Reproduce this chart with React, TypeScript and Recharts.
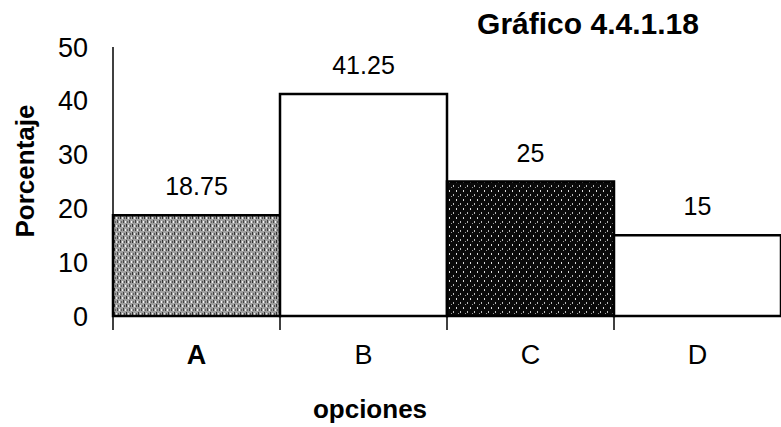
import { BarChart, Bar, XAxis, YAxis, LabelList, Cell } from "recharts";

const categories = ["A", "B", "C", "D"];
const percentages = [18.75, 41.25, 25, 15];
const yTicks = [0, 10, 20, 30, 40, 50];
const title = "Gráfico 4.4.1.18";
const xTitle = "opciones";
const yTitle = "Porcentaje";

// fill for each bar, same order as categories
const barFills = ["url(#stippleLight)", "#ffffff", "url(#stippleDark)", "#ffffff"];

const data = categories.map((name, i) => ({ name, value: percentages[i] }));

const W = 781;
const H = 427;
const Y_AXIS_W = 113;
const X_AXIS_H = 111;
const TOP = 47;
const band = (W - Y_AXIS_W) / categories.length;

// eslint-disable-next-line @typescript-eslint/no-explicit-any
function CategoryTick(props: any) {
  const { x, y, payload, index } = props;
  const edge = x - band / 2;
  return (
    <g>
      <line x1={edge} x2={edge} y1={y} y2={y + 14} stroke="#000" strokeWidth={1.5} />
      <text
        x={x}
        y={y + 48}
        textAnchor="middle"
        fontSize={27}
        fontWeight={index === 0 ? "bold" : "normal"}
        fill="#000"
      >
        {payload.value}
      </text>
    </g>
  );
}

export default function App() {
  return (
    <div
      style={{
        position: "absolute",
        left: 0,
        top: 0,
        width: W,
        height: H,
        background: "#fff",
        fontFamily: "'Liberation Sans', Arial, sans-serif",
      }}
    >
      <BarChart
        width={W}
        height={H}
        data={data}
        margin={{ top: TOP, right: 0, bottom: 0, left: 0 }}
        barCategoryGap={0}
      >
        <defs>
          <pattern id="stippleLight" width="6" height="8" patternUnits="userSpaceOnUse">
            <rect width="6" height="8" fill="#a0a0a0" />
            <rect x="0" y="0" width="1" height="3" fill="#333" />
            <rect x="3" y="4" width="1" height="3" fill="#444" />
            <rect x="2" y="1" width="1" height="2" fill="#eee" />
            <rect x="5" y="5" width="1" height="2" fill="#f4f4f4" />
            <rect x="4" y="1" width="1" height="2" fill="#555" />
            <rect x="1" y="5" width="1" height="2" fill="#666" />
          </pattern>
          <pattern id="stippleDark" width="7" height="9" patternUnits="userSpaceOnUse">
            <rect width="7" height="9" fill="#0a0a0a" />
            <rect x="1" y="1" width="1" height="2" fill="#ddd" />
            <rect x="5" y="5" width="1" height="2" fill="#bbb" />
            <rect x="3" y="7" width="1" height="1" fill="#999" />
          </pattern>
        </defs>
        <XAxis
          dataKey="name"
          height={X_AXIS_H}
          axisLine={{ stroke: "#000", strokeWidth: 1.5 }}
          tickLine={false}
          tickSize={0}
          tickMargin={0}
          tick={<CategoryTick />}
          interval={0}
        />
        <YAxis
          width={Y_AXIS_W}
          domain={[0, 50]}
          ticks={yTicks}
          axisLine={{ stroke: "#000", strokeWidth: 1.5 }}
          tickLine={false}
          tickSize={0}
          tickMargin={25}
          tick={{ fontSize: 27, fill: "#000" }}
        />
        <Bar dataKey="value" stroke="#000" strokeWidth={2.5} isAnimationActive={false}>
          {data.map((d, i) => (
            <Cell key={d.name} fill={barFills[i]} />
          ))}
          <LabelList dataKey="value" position="top" offset={20} fontSize={25} fill="#000" />
        </Bar>
        <text x={588} y={34} textAnchor="middle" fontSize={30} fontWeight="bold" fill="#000">
          {title}
        </text>
        <text x={370} y={418} textAnchor="middle" fontSize={26} fontWeight="bold" fill="#000">
          {xTitle}
        </text>
        <text
          x={34}
          y={171}
          transform="rotate(-90 34 171)"
          textAnchor="middle"
          fontSize={26}
          fontWeight="bold"
          fill="#000"
        >
          {yTitle}
        </text>
      </BarChart>
    </div>
  );
}
